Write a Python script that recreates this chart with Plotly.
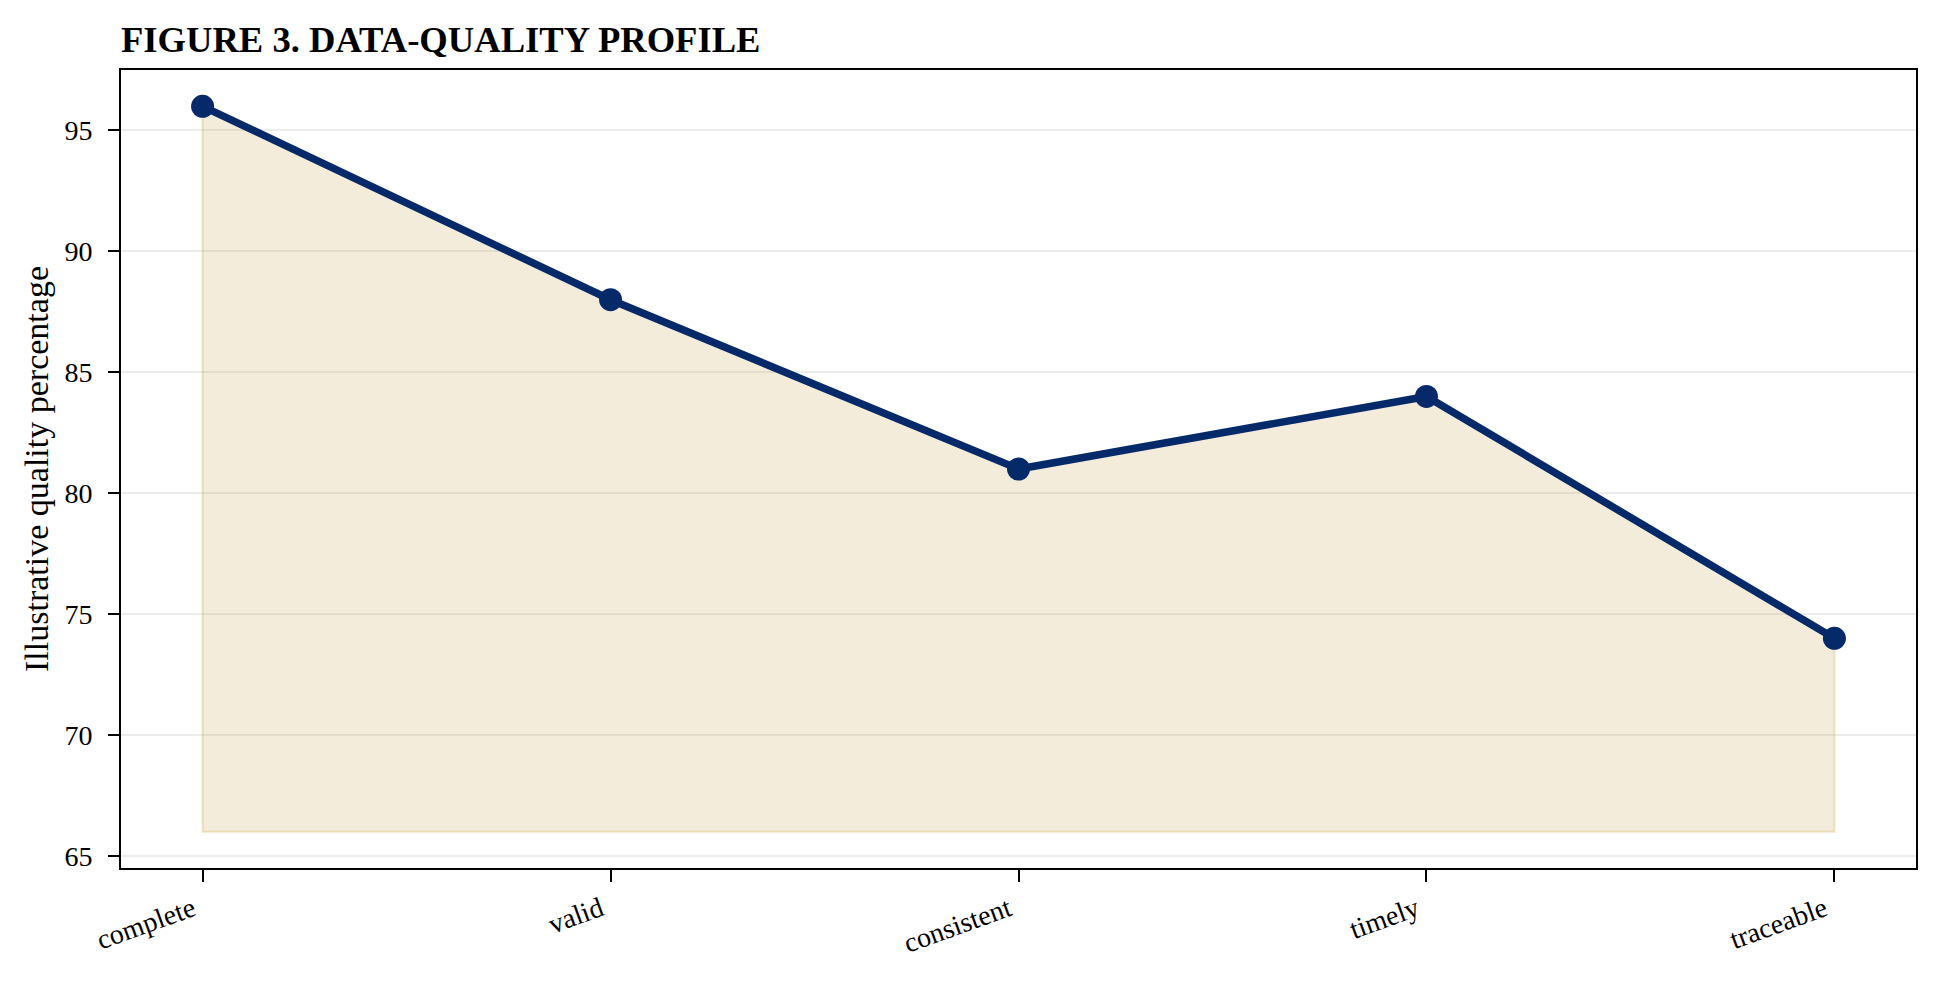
import plotly.graph_objects as go

categories = ["complete", "valid", "consistent", "timely", "traceable"]
quality_pct = [96, 88, 81, 84, 74]
fill_base = 66
y_ticks = [65, 70, 75, 80, 85, 90, 95]

FONT = "Liberation Serif, Times New Roman, serif"
NAVY = "#06296a"

fig = go.Figure()

# shaded area under the line (closed polygon down to the base level)
fig.add_trace(go.Scatter(
    x=categories + [categories[-1], categories[0], categories[0]],
    y=quality_pct + [fill_base, fill_base, quality_pct[0]],
    mode="lines",
    fill="toself",
    fillcolor="rgba(200,160,70,0.20)",
    line=dict(color="rgba(200,160,70,0.28)", width=2),
    hoverinfo="skip",
    showlegend=False,
))

fig.add_trace(go.Scatter(
    x=categories,
    y=quality_pct,
    mode="lines+markers",
    line=dict(color=NAVY, width=7.5),
    marker=dict(color=NAVY, size=23),
    showlegend=False,
))

fig.update_layout(
    width=1940,
    height=982,
    margin=dict(l=113, r=32, t=62, b=122),
    paper_bgcolor="white",
    plot_bgcolor="white",
    font=dict(family=FONT, color="black", size=28),
    title=dict(
        text="<b>FIGURE 3. DATA-QUALITY PROFILE</b>",
        font=dict(family=FONT, size=36.6, color="black"),
        xref="paper", x=0, xanchor="left",
        yref="container", y=1 - 31 / 982, yanchor="middle",
    ),
)

fig.update_xaxes(
    type="category",
    range=[-0.2, 4.2],
    showline=True, linecolor="black", linewidth=2, mirror=True,
    ticks="outside", ticklen=12, tickwidth=2, tickcolor="black",
    tickangle=-20,
    ticklabelshift=-10,
    tickfont=dict(family=FONT, size=28, color="black"),
    showgrid=False,
    zeroline=False,
)

fig.update_yaxes(
    range=[64.5, 97.5],
    tickvals=y_ticks,
    showline=True, linecolor="black", linewidth=2, mirror=True,
    ticks="outside", ticklen=11, tickwidth=2, tickcolor="black",
    ticklabelstandoff=10,
    tickfont=dict(family=FONT, size=28, color="black"),
    showgrid=True, gridcolor="rgba(0,0,0,0.075)", gridwidth=2,
    zeroline=False,
    title=dict(text="Illustrative quality percentage",
               font=dict(family=FONT, size=34, color="black"),
               standoff=6),
)

fig.write_html("out.html")
